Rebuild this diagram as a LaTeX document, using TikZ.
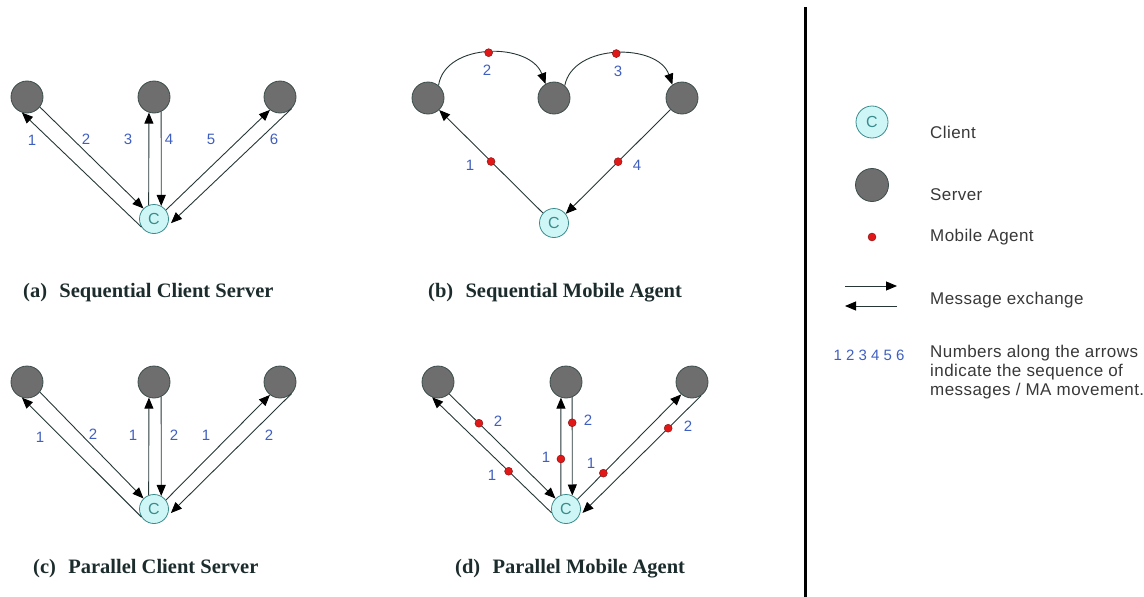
\documentclass[tikz,border=0pt]{standalone}
\usepackage{fontspec}
\setmainfont{Liberation Serif}
\newfontfamily\lsans{Liberation Sans}
\newfontfamily\lsanswide[LetterSpace=2.5]{Liberation Sans}
\usetikzlibrary{arrows.meta,calc}
\definecolor{edgecol}{HTML}{263636}
\definecolor{srvfill}{HTML}{6E6E6E}
\definecolor{srvline}{HTML}{3C4C4C}
\definecolor{clifill}{HTML}{CFF6F6}
\definecolor{cliline}{HTML}{3A8C8C}
\definecolor{agentred}{HTML}{E01818}
\definecolor{agentline}{HTML}{801010}
\definecolor{numblue}{HTML}{3F5FC0}
\definecolor{captext}{HTML}{1C2C2C}
\definecolor{legtext}{HTML}{383838}
\begin{document}
\begin{tikzpicture}[x=1pt,y=-1pt,
  server/.style={circle,fill=srvfill,draw=srvline,line width=0.8pt,minimum size=32pt,inner sep=0pt},
  client/.style={circle,fill=clifill,draw=cliline,line width=0.8pt,minimum size=29pt,inner sep=0pt,
                 font=\lsans\fontsize{16}{16}\selectfont,text=cliline},
  agent/.style={circle,fill=agentred,draw=agentline,line width=0.4pt,minimum size=8pt,inner sep=0pt},
  msg/.style={draw=edgecol,line width=0.9pt,-{Triangle[length=11pt,width=9pt,color=black]}},
  num/.style={font=\lsans\fontsize{15}{15}\selectfont,text=numblue,inner sep=0pt},
  captionlabel/.style={font=\bfseries\fontsize{20.5}{20.5}\selectfont,text=captext,anchor=west,inner sep=0pt},
  legend/.style={font=\lsanswide\fontsize{17}{19}\selectfont,text=legtext,anchor=west,inner sep=0pt,align=left},
]
\useasboundingbox (0,0) rectangle (1144,597);

% (a) sequential client server
\node[server] (a1) at (27,97) {};
\node[server] (a2) at (154,97) {};
\node[server] (a3) at (280,97) {};
\node[client] (ac) at (154,219) {C};
\draw[msg] (ac.213) -- (a1.252);
\draw[msg] (a1.322) -- (ac.135);
\draw[msg] (ac.111) -- (a2.252);
\draw[msg] (a2.296) -- (ac.61);
\draw[msg] (ac.37) -- (a3.232);
\draw[msg,shorten >=7pt] (a3.315) -- (ac.323);
\node[num] (an1) at (32,140) {1};
\node[num] (an2) at (86,139) {2};
\node[num] (an3) at (128,139) {3};
\node[num] (an4) at (169,139) {4};
\node[num] (an5) at (211,139) {5};
\node[num] (an6) at (274,139) {6};
\node[captionlabel] (capa) at (23,293) {(a)\hspace{0.6em}Sequential Client Server};

% (b) sequential mobile agent
\node[server] (b1) at (428,98) {};
\node[server] (b2) at (554,98) {};
\node[server] (b3) at (682,98) {};
\node[client] (bc) at (554,223) {C};
\draw[msg] (bc.138) -- node[agent] (bm1) {} (b1.313);
\draw[msg] (b1.50) .. controls (445,42) and (530,42) .. node[agent] (bm2) {} (b2.121);
\draw[msg] (b2.49) .. controls (573,43) and (658,43) .. node[agent] (bm3) {} (b3.126);
\draw[msg] (b3.225) -- node[agent] (bm4) {} (bc.38);
\node[num] (bn1) at (470,165) {1};
\node[num] (bn2) at (487,70) {2};
\node[num] (bn3) at (618,71) {3};
\node[num] (bn4) at (637,165) {4};
\node[captionlabel] (capb) at (428,293) {(b)\hspace{0.6em}Sequential Mobile Agent};

% (c) parallel client server
\node[server] (c1) at (27,382) {};
\node[server] (c2) at (154,382) {};
\node[server] (c3) at (280,382) {};
\node[client] (cc) at (154,509) {C};
\draw[msg] (cc.213) -- (c1.252);
\draw[msg] (c1.322) -- (cc.135);
\draw[msg] (cc.111) -- (c2.252);
\draw[msg] (c2.296) -- (cc.61);
\draw[msg] (cc.37) -- (c3.232);
\draw[msg,shorten >=7pt] (c3.315) -- (cc.323);
\node[num] (cn1) at (40,437) {1};
\node[num] (cn2) at (93,434) {2};
\node[num] (cn3) at (133,435) {1};
\node[num] (cn4) at (174,435) {2};
\node[num] (cn5) at (206,435) {1};
\node[num] (cn6) at (269,435) {2};
\node[captionlabel] (capc) at (33,569) {(c)\hspace{0.6em}Parallel Client Server};

% (d) parallel mobile agent
\node[server] (d1) at (438,382) {};
\node[server] (d2) at (566,382) {};
\node[server] (d3) at (692,382) {};
\node[client] (dc) at (566,509) {C};
\draw[msg] (dc.195) -- node[agent,pos=0.36] (dm1) {} (d1.249);
\draw[msg] (d1.313) -- node[agent,pos=0.28] (dm2) {} (dc.135);
\draw[msg] (dc.110) -- node[agent,pos=0.37] (dm3) {} (d2.252);
\draw[msg] (d2.292) -- node[agent,pos=0.26] (dm4) {} (dc.65);
\draw[msg] (dc.40) -- node[agent,pos=0.25] (dm5) {} (d3.229);
\draw[msg,shorten >=5pt] (d3.304) -- node[agent,pos=0.27] (dm6) {} (dc.330);
\node[num] (dn1) at (492,475) {1};
\node[num] (dn2) at (498,421) {2};
\node[num] (dn3) at (546,457) {1};
\node[num] (dn4) at (588,420) {2};
\node[num] (dn5) at (591,463) {1};
\node[num] (dn6) at (688,426) {2};
\node[captionlabel] (capd) at (455,569) {(d)\hspace{0.6em}Parallel Mobile Agent};

% divider
\coordinate (dv1) at (805,7);
\coordinate (dv2) at (805,597);
\draw[line width=3pt,black] (dv1) -- (dv2);

% legend
\node[client,minimum size=32pt] (lc) at (872,122) {C};
\node[legend] (lct) at (930,132) {Client};
\node[server,minimum size=33pt] (ls) at (872,185) {};
\node[legend] (lst) at (930,195) {Server};
\node[agent] (la) at (872,237) {};
\node[legend] (lat) at (930,237) {Mobile Agent};
\coordinate (lm1) at (845,286);
\coordinate (lm2) at (897,286);
\coordinate (lm3) at (897,306);
\coordinate (lm4) at (845,306);
\draw[msg] (lm1) -- (lm2);
\draw[msg] (lm3) -- (lm4);
\node[legend] (lmt) at (930,300) {Message exchange};
\node[num] (lnum) at (869,355) {1 2 3 4 5 6};
\node[legend,anchor=north west] (lnt) at (930,345) {Numbers along the arrows\\indicate the sequence of\\messages / MA movement.};
\end{tikzpicture}
\end{document}
